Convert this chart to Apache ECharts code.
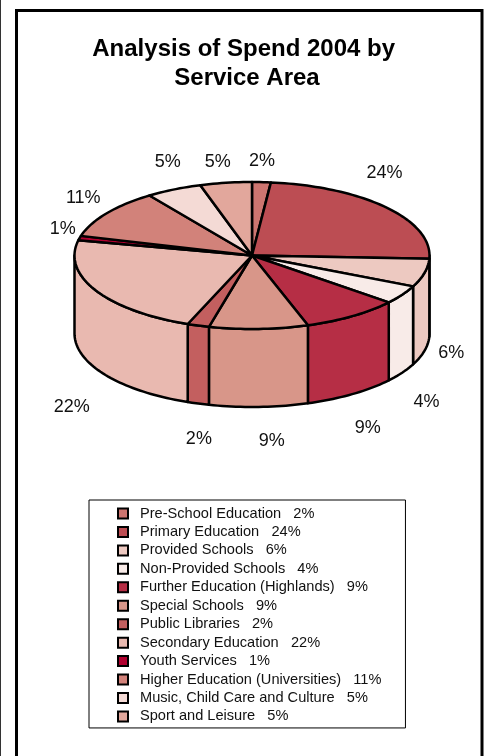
<!DOCTYPE html>
<html><head><meta charset="utf-8">
<style>html,body{margin:0;padding:0;background:#fff}#c{width:486px;height:756px}</style>
<script src="https://cdn.jsdelivr.net/npm/echarts@6/dist/echarts.min.js"></script>
</head><body><div id="c"></div>
<script>
const categories = ["Pre-School Education","Primary Education","Provided Schools","Non-Provided Schools","Further Education (Highlands)","Special Schools","Public Libraries","Secondary Education","Youth Services","Higher Education (Universities)","Music, Child Care and Culture","Sport and Leisure"];
const values = [1.7,24.0,6.2,4.1,8.9,9.0,2.0,22.4,1.0,10.9,5.1,4.7];
const colors = ["#CD7570","#BC4D53","#EDC9C1","#F8EBE8","#B62E45","#D89689","#C35F5F","#E9B9B0","#B0002F","#D2827A","#F4DAD5","#E2A79C"];
const labelNudge = [[-1,5],[-23,-17],[0,-11],[1,8],[0,5],[12,1],[9,3],[0,19],[10,-3],[-1,0],[6,-4],[-4,5]];

const cx=252, cy=255.5, rx=177.5, ry=73.5, depth=78;
const total = values.reduce((a,b)=>a+b,0);
const pt=(deg,dy=0)=>{const t=deg*Math.PI/180;return [cx+rx*Math.sin(t), cy-ry*Math.cos(t)+dy];};
const arc=(a,b,dy=0)=>{const n=Math.max(2,Math.ceil((b-a)/1.5));const r=[];for(let i=0;i<=n;i++)r.push(pt(a+(b-a)*i/n,dy));return r;};
const line={stroke:'#000',lineWidth:2.5,lineJoin:'round'};

function renderSlice(params,api){
  const i=params.seriesIndex, v=api.value(0);
  let before=0; for(let k=0;k<i;k++) before+=values[k];
  const a=before/total*360, b=(before+v)/total*360, mid=(a+b)/2;
  const kids=[];
  const wa=Math.max(a,90), wb=Math.min(b,270);
  if(wb>wa){
    kids.push({type:'polygon',shape:{points:arc(wa,wb).concat(arc(wa,wb,depth).reverse())},style:{fill:colors[i],...line}});
  }
  kids.push({type:'polygon',shape:{points:[[cx,cy]].concat(arc(a,b))},style:{fill:colors[i],...line}});
  const front=mid>90&&mid<270;
  const m=mid*Math.PI/180;
  kids.push({type:'text',style:{text:Math.round(v)+'%',
    x:cx+205*Math.sin(m)+labelNudge[i][0],
    y:cy-100*Math.cos(m)+(front?85:0)+labelNudge[i][1],
    align:'center',verticalAlign:'middle',fill:'#111',
    font:'18px "Liberation Sans"'}});
  return {type:'group',children:kids};
}

const chart=echarts.init(document.getElementById('c'),null,{renderer:'canvas'});
chart.setOption({
  animation:false,
  backgroundColor:'#fff',
  title:{text:'Analysis of Spend 2004 by \nService Area',left:242,top:30,textAlign:'center',
    textStyle:{fontFamily:'Liberation Sans',fontWeight:'bold',fontSize:24,lineHeight:29,color:'#000'}},
  legend:{orient:'vertical',left:89,top:500,padding:[6,24,4,28],itemWidth:10,itemHeight:10,itemGap:3.45,
    backgroundColor:'#fff',borderColor:'#000',borderWidth:1,borderRadius:0,
    icon:'rect',
    data:categories,
    itemStyle:{borderColor:'#000',borderWidth:2},
    formatter:n=>n+'   '+Math.round(values[categories.indexOf(n)])+'%',
    textStyle:{fontFamily:'Liberation Sans',fontSize:14.6,lineHeight:14,color:'#111',padding:[0,0,0,7]},
    selectedMode:false},
  graphic:[
    {type:'rect',silent:true,z:-1,shape:{x:16.5,y:10.5,width:465.5,height:800},style:{fill:'#fff',stroke:'#000',lineWidth:3}},
    {type:'rect',silent:true,z:-1,shape:{x:0,y:0,width:1,height:756},style:{fill:'#333'}}
  ],
  series:categories.map((name,i)=>({type:'custom',name,coordinateSystem:'none',silent:true,
    itemStyle:{color:colors[i]},renderItem:renderSlice,data:[[values[i]]]}))
});
</script></body></html>
